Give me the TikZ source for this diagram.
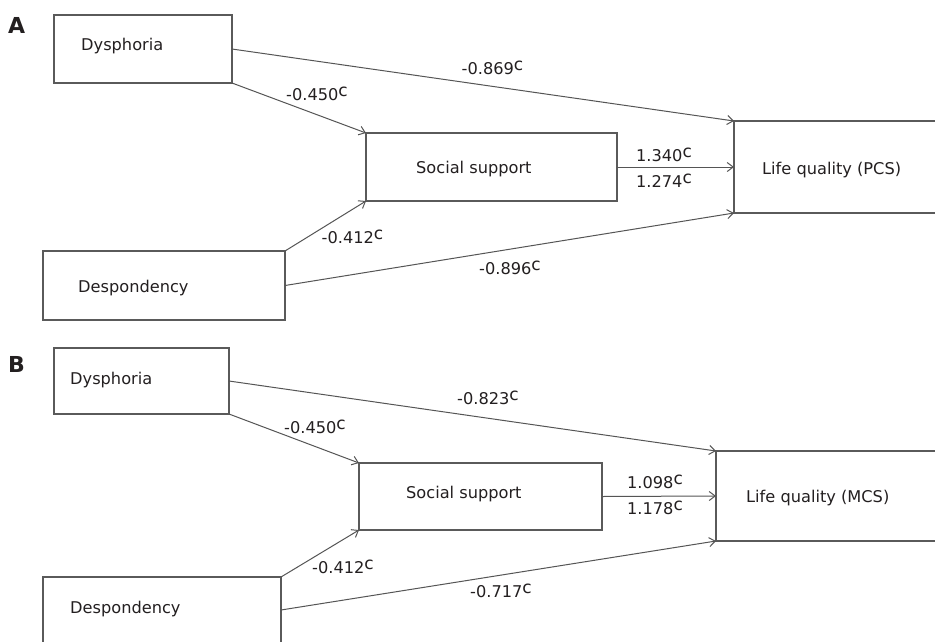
\documentclass[tikz,border=0pt]{standalone}
\usepackage{fontspec}
\setmainfont{DejaVu Sans}
\usetikzlibrary{arrows.meta}
\definecolor{boxline}{HTML}{5A5A5A}
\definecolor{arrline}{HTML}{555555}
\definecolor{ink}{HTML}{231F20}
\newcommand{\sigc}{\raisebox{4pt}{\fontsize{17pt}{17pt}\selectfont c}}
\tikzset{
  box/.style={draw=boxline, line width=1.2pt, inner sep=0pt, outer sep=0pt, anchor=north west},
  boxtext/.style={text=ink, inner sep=0pt, anchor=base west, font=\fontsize{16.2pt}{19pt}\selectfont},
  coef/.style={text=ink, inner sep=0pt, anchor=base, font=\fontsize{16.2pt}{19pt}\selectfont},
  panel/.style={text=ink, inner sep=0pt, anchor=base west, font=\fontsize{22pt}{24pt}\selectfont\bfseries},
  link/.style={draw=arrline, line width=1pt, -{Straight Barb[length=6pt,width=9pt]}}
}
\begin{document}
\begin{tikzpicture}[x=1pt,y=-1pt]
\useasboundingbox (0,0) rectangle (935,641);
\clip (0,0) rectangle (935,641);
\fill[white] (0,0) rectangle (935,641);

% ---------------- Panel A ----------------
\node[panel] (labA) at (8,33) {A};
\node[box, minimum width=178pt, minimum height=68pt] (dysA) at (54,15) {};
\node[box, minimum width=251pt, minimum height=68pt] (ssA) at (366,133) {};
\node[box, minimum width=242pt, minimum height=69pt] (desA) at (43,251) {};
\node[box, minimum width=230pt, minimum height=92pt] (lqA) at (734,121) {};

\node[boxtext] (tdysA) at (81,50) {Dysphoria};
\node[boxtext] (tssA) at (416,173) {Social support};
\node[boxtext] (tdesA) at (78,292) {Despondency};
\node[boxtext] (tlqA) at (762,174) {Life quality (PCS)};

\draw[link] (dysA.east) -- (lqA.north west);
\draw[link] (dysA.south east) -- (ssA.north west);
\draw[link] (desA.north east) -- (ssA.south west);
\draw[link] (desA.east) -- (lqA.south west);
\draw[link] (ssA.east) -- (lqA.west);

\node[coef] (cA1) at (492.5,74) {-0.869\sigc};
\node[coef] (cA2) at (317,100) {-0.450\sigc};
\node[coef] (cA3) at (664,161) {1.340\sigc};
\node[coef] (cA4) at (664,187) {1.274\sigc};
\node[coef] (cA5) at (352.5,243) {-0.412\sigc};
\node[coef] (cA6) at (510,274) {-0.896\sigc};

% ---------------- Panel B ----------------
\node[panel] (labB) at (8,372) {B};
\node[box, minimum width=175pt, minimum height=66pt] (dysB) at (54,348) {};
\node[box, minimum width=243pt, minimum height=67pt] (ssB) at (359,463) {};
\node[box, minimum width=238pt, minimum height=66pt] (desB) at (43,577) {};
\node[box, minimum width=250pt, minimum height=90pt] (lqB) at (716,451) {};

\node[boxtext] (tdysB) at (70,384) {Dysphoria};
\node[boxtext] (tssB) at (406,498) {Social support};
\node[boxtext] (tdesB) at (70,613) {Despondency};
\node[boxtext] (tlqB) at (746,502) {Life quality (MCS)};

\draw[link] (dysB.east) -- (lqB.north west);
\draw[link] (dysB.south east) -- (ssB.north west);
\draw[link] (desB.north east) -- (ssB.south west);
\draw[link] (desB.east) -- (lqB.south west);
\draw[link] (ssB.east) -- (lqB.west);

\node[coef] (cB1) at (488,404) {-0.823\sigc};
\node[coef] (cB2) at (315,433) {-0.450\sigc};
\node[coef] (cB3) at (655,488) {1.098\sigc};
\node[coef] (cB4) at (655,514) {1.178\sigc};
\node[coef] (cB5) at (343,573) {-0.412\sigc};
\node[coef] (cB6) at (501,597) {-0.717\sigc};
\end{tikzpicture}
\end{document}
